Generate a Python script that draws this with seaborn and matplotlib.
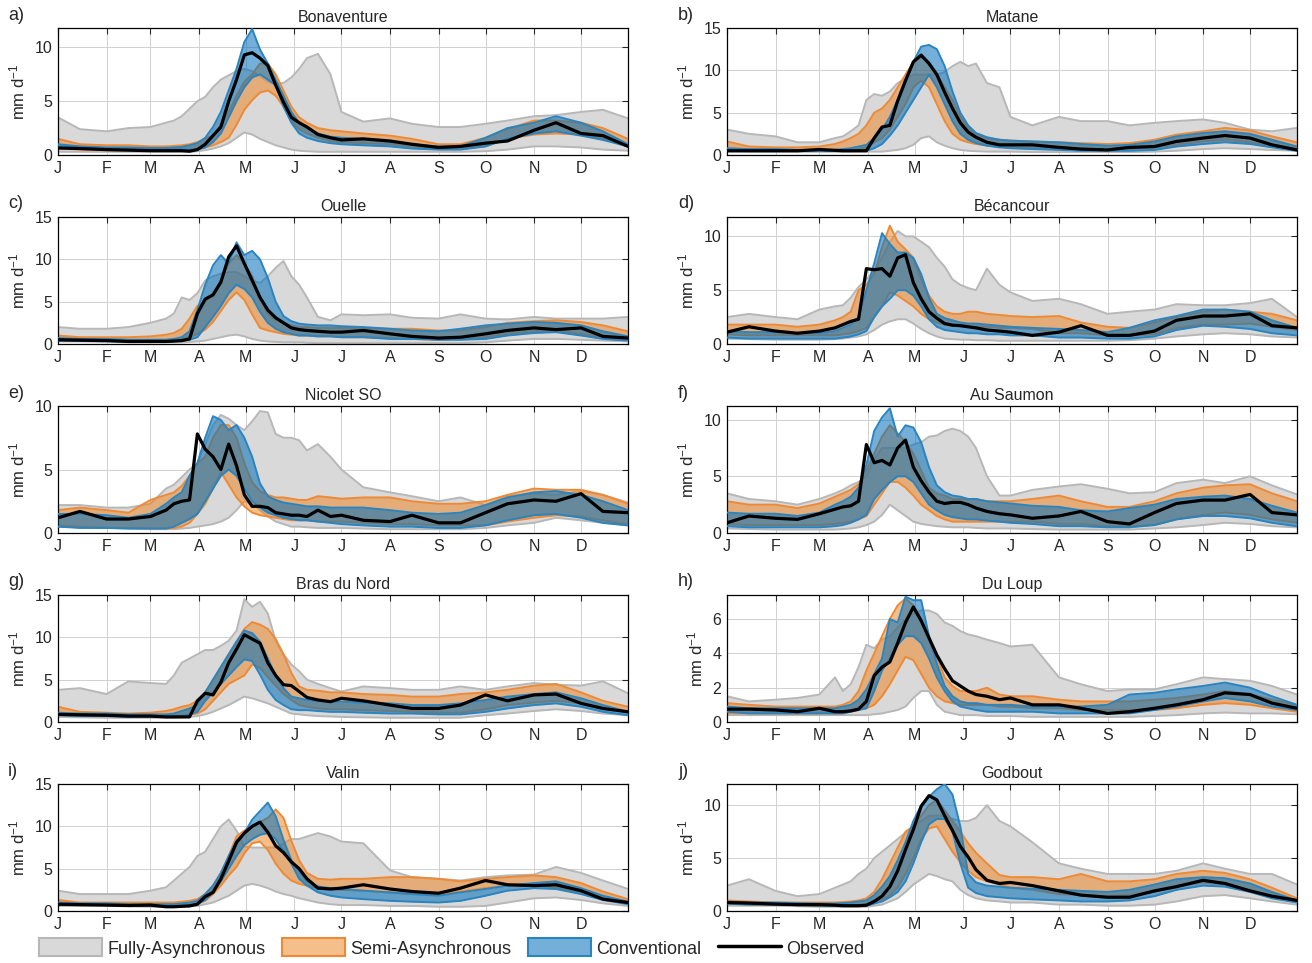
import matplotlib
matplotlib.use("Agg")
import matplotlib.pyplot as plt
import seaborn as sns
from matplotlib.patches import Patch
from matplotlib.lines import Line2D

# day of year of each sample
days = [1, 15, 32, 46, 60, 70, 75, 80, 85, 90, 95, 100, 105, 110, 115, 120, 125, 130, 135,
        140, 145, 150, 155, 160, 167, 175, 182, 196, 213, 227, 244, 258, 274, 288, 305, 319,
        335, 349, 365]
month_start = [1, 32, 60, 91, 121, 152, 182, 213, 244, 274, 305, 335]
month_labels = ['J', 'F', 'M', 'A', 'M', 'J', 'J', 'A', 'S', 'O', 'N', 'D']

stations = ['Bonaventure', 'Matane', 'Ouelle', 'Bécancour', 'Nicolet SO',
            'Au Saumon', 'Bras du Nord', 'Du Loup', 'Valin', 'Godbout']
letters = ['a)', 'b)', 'c)', 'd)', 'e)', 'f)', 'g)', 'h)', 'i)', 'j)']
ymax = [11.8, 15, 15, 11.8, 10, 11.2, 15, 7.4, 15, 12]
yticks = [[0, 5, 10], [0, 5, 10, 15], [0, 5, 10, 15], [0, 5, 10], [0, 5, 10],
          [0, 5, 10], [0, 5, 10, 15], [0, 2, 4, 6], [0, 5, 10, 15], [0, 5, 10]]

# a) Bonaventure
obs_a = [0.65,0.6,0.5,0.45,0.4,0.4,0.4,0.4,0.35,0.5,1.0,1.8,2.6,5.0,7.0,9.3,9.5,9.0,8.3,6.5,4.9,3.5,3.0,2.6,1.9,1.6,1.4,1.5,1.3,1.0,0.7,0.8,1.1,1.3,2.3,3.0,2.0,1.8,0.8]
fa_lo_a = [0.3,0.3,0.3,0.3,0.3,0.3,0.3,0.3,0.3,0.35,0.45,0.6,0.8,1.1,1.6,2.1,1.9,1.5,1.2,0.9,0.7,0.5,0.4,0.35,0.3,0.3,0.3,0.3,0.3,0.3,0.3,0.3,0.35,0.5,0.8,0.8,0.7,0.5,0.4]
fa_hi_a = [3.5,2.4,2.2,2.5,2.6,3.0,3.2,3.6,4.3,5.0,5.4,6.3,7.0,7.4,7.8,8.0,7.8,7.3,6.8,6.6,6.7,7.2,8.0,9.0,9.4,7.5,4.0,3.1,3.4,2.9,2.6,2.6,2.9,3.2,3.6,3.7,4.0,4.2,3.4]
sa_lo_a = [0.6,0.5,0.45,0.45,0.45,0.45,0.45,0.45,0.5,0.55,0.7,0.9,1.2,1.6,2.8,4.2,5.1,5.8,6.0,5.5,4.5,3.2,2.4,2.0,1.6,1.3,1.2,1.1,1.0,0.8,0.6,0.6,0.8,1.5,1.9,2.0,1.9,1.5,0.8]
sa_hi_a = [1.5,1.0,0.9,0.9,0.8,0.8,0.85,0.9,1.0,1.2,1.5,1.8,2.8,4.0,5.5,6.8,7.5,8.5,8.5,7.5,6.0,4.5,3.5,3.0,2.5,2.3,2.2,2.0,1.8,1.5,1.0,1.0,1.6,2.4,3.2,3.2,3.0,2.5,1.5]
cv_lo_a = [0.8,0.7,0.6,0.6,0.5,0.5,0.5,0.5,0.5,0.5,0.7,1.2,2.0,3.5,5.0,6.3,7.2,7.5,7.0,6.5,4.5,3.0,2.0,1.6,1.3,1.1,1.0,0.9,0.8,0.6,0.5,0.5,0.8,1.5,2.0,2.2,1.8,1.4,0.8]
cv_hi_a = [1.0,0.8,0.7,0.7,0.65,0.65,0.7,0.75,0.9,1.1,1.6,2.6,4.0,6.0,8.0,10.5,11.7,9.8,8.5,7.0,5.5,4.0,3.0,2.5,2.0,1.7,1.6,1.5,1.2,1.0,0.8,0.8,1.6,2.5,3.0,3.6,3.0,2.2,1.0]

# b) Matane
obs_b = [0.5,0.5,0.5,0.5,0.65,0.55,0.5,0.5,0.5,0.5,2.0,3.3,3.5,6.4,8.8,11.0,11.8,10.8,9.5,7.4,5.5,3.8,2.7,2.1,1.5,1.2,1.2,1.2,0.9,0.7,0.6,0.9,1.0,1.6,2.0,2.3,2.0,1.2,0.6]
fa_lo_b = [0.4,0.4,0.4,0.4,0.4,0.4,0.4,0.4,0.4,0.4,0.4,0.4,0.5,0.6,0.8,1.2,2.0,2.2,1.5,1.1,0.8,0.6,0.5,0.45,0.4,0.4,0.4,0.35,0.35,0.35,0.35,0.35,0.4,0.5,0.7,0.8,0.7,0.6,0.5]
fa_hi_b = [3.0,2.5,2.2,1.5,1.5,2.0,2.2,2.8,3.5,6.5,7.2,7.0,7.5,8.5,9.0,9.5,9.5,9.5,9.5,9.8,10.5,11.0,10.5,10.8,8.5,8.0,4.5,3.5,4.5,4.0,4.0,3.5,3.8,4.0,4.2,3.8,3.0,2.8,3.2]
sa_lo_b = [0.6,0.5,0.5,0.5,0.5,0.5,0.5,0.6,0.7,0.9,1.5,2.0,3.0,4.5,6.0,8.0,8.8,8.0,6.0,4.0,2.5,1.8,1.5,1.3,1.1,1.0,0.9,0.8,0.7,0.6,0.6,0.7,0.9,1.2,1.6,1.8,1.5,1.0,0.7]
sa_hi_b = [1.6,1.0,0.9,0.9,1.0,1.3,1.6,2.0,2.5,3.5,5.0,5.5,6.5,8.0,9.5,11.0,11.5,11.0,9.5,8.0,6.5,4.5,3.2,2.5,2.0,1.8,1.7,1.6,1.5,1.4,1.3,1.4,1.8,2.4,2.8,3.2,2.9,2.2,1.5]
cv_lo_b = [0.5,0.45,0.45,0.45,0.45,0.45,0.45,0.45,0.5,0.5,0.8,1.3,2.3,3.5,5.0,6.5,8.0,9.5,8.0,6.0,4.0,2.5,1.8,1.4,1.1,0.9,0.8,0.7,0.6,0.5,0.5,0.5,0.6,1.0,1.3,1.5,1.3,0.9,0.5]
cv_hi_b = [0.8,0.7,0.7,0.6,0.6,0.6,0.7,0.8,1.0,1.2,2.0,3.0,4.5,6.5,8.5,11.0,12.8,13.0,12.5,10.5,7.5,5.0,3.5,2.6,2.1,1.8,1.7,1.6,1.5,1.3,1.1,1.2,1.6,2.2,2.6,2.8,2.5,1.8,1.0]

# c) Ouelle
obs_c = [0.5,0.45,0.4,0.3,0.3,0.3,0.35,0.4,0.6,3.6,5.3,5.8,7.3,10.3,11.6,9.5,7.5,5.5,4.0,3.1,2.5,1.9,1.7,1.6,1.5,1.4,1.4,1.6,1.2,0.9,0.7,0.8,1.2,1.6,1.9,1.7,1.9,0.9,0.7]
fa_lo_c = [0.3,0.3,0.25,0.2,0.2,0.2,0.2,0.2,0.25,0.3,0.4,0.6,0.8,1.0,1.1,0.9,0.6,0.4,0.3,0.25,0.2,0.2,0.2,0.15,0.1,0.1,0.1,0.1,0.1,0.1,0.1,0.1,0.2,0.4,0.6,0.6,0.5,0.4,0.3]
fa_hi_c = [2.0,1.8,1.8,2.0,2.5,3.0,3.6,5.5,5.2,6.0,7.5,8.0,8.3,8.5,8.5,8.0,7.5,7.2,8.0,9.0,9.8,8.0,7.0,5.5,3.2,2.8,3.5,3.4,3.5,3.1,3.0,3.5,3.0,2.9,3.2,3.0,3.0,3.0,3.2]
sa_lo_c = [0.6,0.5,0.4,0.4,0.4,0.45,0.5,0.6,0.8,1.2,1.7,2.6,3.9,5.2,6.1,5.2,3.5,1.9,1.6,1.4,1.2,1.1,1.0,1.0,0.9,0.9,0.8,0.8,0.7,0.6,0.5,0.6,0.8,1.2,1.5,1.5,1.2,0.8,0.6]
sa_hi_c = [1.0,0.8,0.8,0.8,0.9,1.1,1.3,1.8,3.0,4.5,5.0,6.0,7.5,9.5,10.5,9.5,8.0,5.5,3.5,2.8,2.5,2.2,2.0,2.0,1.9,1.9,1.9,1.9,1.8,1.8,1.6,1.6,2.0,2.5,2.7,2.8,2.6,2.2,1.5]
cv_lo_c = [0.4,0.35,0.35,0.3,0.3,0.3,0.3,0.4,0.5,0.8,2.0,3.2,4.5,6.0,7.0,6.5,5.5,3.8,2.5,1.8,1.4,1.2,1.0,1.0,0.9,0.9,0.8,0.8,0.6,0.6,0.5,0.5,0.6,1.0,1.3,1.4,1.0,0.6,0.4]
cv_hi_c = [0.7,0.6,0.6,0.5,0.5,0.5,0.6,0.8,1.5,4.0,7.0,9.3,10.5,9.5,12.0,10.5,11.0,10.0,7.8,5.0,3.3,2.7,2.4,2.3,2.2,2.2,2.1,2.0,1.8,1.6,1.5,1.8,2.2,2.4,2.6,2.5,2.2,1.5,0.9]

# d) Bécancour
obs_d = [1.1,1.6,1.2,1.0,1.2,1.5,1.8,2.1,2.3,7.0,6.9,7.0,6.3,8.0,8.3,5.7,4.2,3.0,2.4,1.9,1.75,1.7,1.6,1.5,1.3,1.2,1.1,0.8,1.1,1.7,0.8,0.8,1.2,2.2,2.6,2.6,2.8,1.7,1.5]
fa_lo_d = [0.5,0.45,0.4,0.4,0.4,0.45,0.5,0.6,0.7,0.9,1.3,1.8,2.1,2.3,2.3,1.9,1.4,1.0,0.7,0.5,0.45,0.4,0.4,0.35,0.35,0.3,0.3,0.3,0.3,0.3,0.3,0.35,0.5,0.7,0.9,1.0,0.9,0.7,0.6]
fa_hi_d = [2.5,2.8,2.5,2.3,3.2,3.5,3.6,4.3,5.3,6.0,6.8,8.0,9.5,10.5,10.0,10.0,9.5,9.0,8.0,7.2,6.0,5.5,5.2,5.0,7.0,5.5,4.8,4.0,4.2,3.7,2.8,3.0,3.2,3.7,3.6,3.6,3.8,4.2,2.5]
sa_lo_d = [0.9,0.8,0.8,0.8,0.8,0.8,0.9,1.0,1.2,1.5,2.5,3.5,4.8,4.5,4.0,3.5,2.8,2.3,2.0,1.8,1.7,1.7,1.6,1.6,1.6,1.5,1.5,1.4,1.0,1.0,0.8,0.8,0.9,1.5,1.8,1.8,1.9,1.6,1.3]
sa_hi_d = [1.8,1.8,1.8,1.6,1.8,2.2,2.5,3.0,5.0,5.5,6.5,9.0,11.0,9.5,8.8,8.0,6.0,4.5,3.5,3.0,2.8,2.8,3.0,3.0,2.8,2.7,2.6,2.5,2.6,2.0,1.6,1.5,2.0,2.5,3.0,3.2,3.0,2.8,2.2]
cv_lo_d = [0.6,0.5,0.5,0.5,0.5,0.5,0.6,0.7,0.9,1.2,2.5,3.5,4.2,5.0,5.0,4.5,3.5,2.3,1.6,1.3,1.2,1.1,1.0,1.0,0.9,0.9,0.8,0.8,0.6,0.6,0.5,0.5,0.7,1.3,1.7,1.6,1.4,1.0,0.8]
cv_hi_d = [1.2,1.1,1.1,1.0,1.0,1.2,1.5,1.8,2.5,5.0,7.5,10.3,9.3,8.5,8.5,8.0,6.5,4.3,2.8,2.4,2.2,2.0,1.9,1.9,1.8,1.7,1.6,1.5,1.4,1.3,1.1,1.5,2.2,2.6,3.2,3.2,3.0,2.2,1.5]

# e) Nicolet SO
obs_e = [1.2,1.7,1.1,1.1,1.3,1.8,2.3,2.5,2.6,7.8,6.6,6.0,5.0,7.0,5.3,3.0,2.1,2.1,2.0,1.6,1.5,1.4,1.4,1.3,1.8,1.3,1.4,1.0,0.9,1.4,0.8,0.8,1.6,2.3,2.6,2.5,3.1,1.7,1.6]
fa_lo_e = [0.5,0.45,0.4,0.35,0.3,0.3,0.3,0.35,0.4,0.5,0.6,0.7,0.9,1.2,1.8,2.5,2.3,1.8,1.3,0.9,0.7,0.5,0.5,0.45,0.4,0.4,0.4,0.35,0.3,0.3,0.3,0.3,0.4,0.6,0.8,1.2,1.0,0.8,0.6]
fa_hi_e = [2.2,2.2,2.0,2.0,2.3,3.5,3.8,4.4,5.0,5.5,7.0,8.5,9.3,9.0,8.5,8.1,8.8,9.6,9.5,7.8,7.5,7.5,7.3,6.5,7.0,6.0,5.0,3.6,3.2,2.9,2.5,2.8,2.2,2.9,3.1,3.0,3.3,3.0,2.4]
sa_lo_e = [0.6,0.5,0.4,0.4,0.35,0.35,0.4,0.5,0.8,1.5,2.3,3.5,4.8,3.8,2.8,2.1,1.6,1.4,1.3,1.2,1.1,1.0,1.0,1.0,0.9,0.9,0.9,0.8,0.7,0.7,0.6,0.6,0.6,0.9,1.2,1.4,1.3,1.0,0.7]
sa_hi_e = [1.8,2.0,1.8,1.6,2.6,3.0,3.2,3.7,4.5,5.5,6.0,7.5,8.5,8.5,7.5,5.5,4.0,3.3,3.0,2.8,2.8,2.7,2.6,2.6,2.9,2.8,2.7,2.8,2.8,2.5,2.3,2.3,2.5,3.0,3.5,3.4,3.4,3.0,2.3]
cv_lo_e = [0.5,0.4,0.4,0.35,0.35,0.35,0.5,0.8,1.1,1.5,2.5,3.5,4.5,5.0,4.5,3.5,2.5,2.0,1.6,1.4,1.2,1.1,1.0,1.0,0.9,0.8,0.7,0.6,0.5,0.5,0.4,0.4,0.6,1.0,1.4,1.5,1.2,0.8,0.6]
cv_hi_e = [1.5,1.5,1.4,1.2,1.5,2.3,2.8,3.2,4.5,5.5,7.5,9.2,8.9,8.1,8.5,7.5,6.0,3.9,2.9,2.6,2.4,2.3,2.2,2.1,2.1,2.0,2.0,2.0,1.8,1.6,1.5,1.6,2.2,2.8,3.2,3.3,3.0,2.5,1.8]

# f) Au Saumon
obs_f = [0.9,1.5,1.3,1.2,1.7,2.1,2.3,2.4,2.8,7.8,6.2,6.4,6.0,7.5,8.2,5.8,4.6,3.6,2.8,2.6,2.7,2.7,2.5,2.2,1.9,1.7,1.6,1.3,1.5,1.9,1.0,0.8,1.8,2.6,2.9,2.9,3.4,1.8,1.6]
fa_lo_f = [0.4,0.35,0.3,0.3,0.3,0.3,0.35,0.4,0.5,0.7,1.0,1.6,2.5,2.0,1.5,1.0,0.8,0.7,0.6,0.55,0.5,0.5,0.5,0.45,0.4,0.4,0.4,0.35,0.3,0.3,0.3,0.3,0.4,0.5,0.7,0.9,0.8,0.6,0.5]
fa_hi_f = [3.5,3.0,2.8,2.5,3.0,3.5,3.8,4.2,4.5,5.0,6.5,7.5,7.5,7.5,7.5,7.8,8.0,8.5,8.6,9.0,9.2,9.0,8.5,7.5,5.0,3.3,3.3,3.8,4.1,4.3,3.9,3.5,3.6,4.4,4.7,4.4,5.0,4.2,3.4]
sa_lo_f = [0.8,0.7,0.7,0.7,0.7,0.8,0.9,1.0,1.2,1.5,2.5,3.5,4.5,4.5,4.0,3.3,2.5,2.0,1.5,1.2,1.0,1.0,1.0,1.0,1.0,1.0,1.0,1.0,0.8,0.8,0.6,0.6,0.7,1.2,1.6,1.8,1.6,1.2,0.9]
sa_hi_f = [2.8,2.5,2.5,2.2,2.6,3.2,3.5,3.8,4.3,5.5,7.0,8.5,9.5,8.8,8.0,7.0,5.5,4.0,3.5,3.3,3.0,3.0,3.0,3.0,2.8,2.8,2.8,3.0,3.3,2.8,2.3,2.3,2.8,3.5,4.0,4.2,4.3,3.5,2.8]
cv_lo_f = [0.6,0.5,0.5,0.5,0.5,0.6,0.7,0.9,1.2,1.6,3.0,3.8,4.5,5.0,5.0,4.5,3.5,2.5,2.0,1.6,1.4,1.3,1.2,1.2,1.1,1.0,0.9,0.8,0.6,0.6,0.5,0.5,0.7,1.2,1.5,1.5,1.3,0.9,0.6]
cv_hi_f = [1.8,1.7,1.7,1.5,1.8,2.5,2.8,3.2,4.0,6.0,9.0,10.2,11.0,8.5,9.5,9.3,8.0,5.8,4.2,3.6,3.3,3.2,3.0,3.0,2.8,2.7,2.6,2.4,2.3,2.0,1.9,2.2,2.5,3.0,3.2,3.3,3.0,2.4,1.8]

# g) Bras du Nord
obs_g = [0.9,0.85,0.8,0.7,0.7,0.6,0.6,0.6,0.6,2.5,3.4,3.2,4.7,7.0,8.6,10.3,9.8,9.3,7.0,5.5,4.4,4.3,3.6,2.9,2.6,2.4,2.8,2.5,2.0,1.6,1.6,2.0,3.2,2.5,3.2,3.3,2.2,1.6,1.2]
fa_lo_g = [0.6,0.55,0.5,0.5,0.5,0.5,0.5,0.55,0.6,0.7,0.9,1.2,1.6,2.0,2.5,3.0,2.8,2.5,2.2,1.8,1.4,1.0,0.9,0.8,0.7,0.65,0.6,0.55,0.5,0.5,0.5,0.5,0.8,1.0,1.3,1.5,1.3,1.0,0.8]
fa_hi_g = [3.8,4.0,3.3,4.8,4.6,4.5,5.5,7.0,7.5,8.0,8.5,8.5,9.0,9.6,10.8,14.5,13.6,14.2,12.8,9.6,8.0,6.8,6.0,5.0,4.5,4.0,3.6,4.2,4.0,3.8,3.8,4.2,3.8,4.2,4.6,4.4,4.3,4.8,3.4]
sa_lo_g = [0.9,0.8,0.8,0.7,0.7,0.7,0.75,0.8,0.9,1.0,1.5,2.5,3.5,4.5,5.0,5.5,6.8,6.4,5.3,4.3,3.3,2.6,2.0,1.8,1.6,1.5,1.5,1.4,1.3,1.2,1.1,1.1,1.5,2.0,2.3,2.5,2.2,1.6,1.2]
sa_hi_g = [1.8,1.2,1.1,1.0,1.1,1.3,1.5,1.8,2.0,2.5,3.5,5.0,6.5,8.0,9.5,11.0,11.8,11.5,11.0,9.8,8.0,5.8,4.2,3.8,3.7,3.5,3.5,3.3,3.2,3.0,3.0,3.3,3.5,3.8,4.3,4.5,3.5,2.5,1.8]
cv_lo_g = [0.8,0.7,0.7,0.6,0.6,0.6,0.6,0.7,0.9,1.2,2.5,3.5,4.5,5.5,6.5,7.4,7.2,5.6,3.8,2.6,2.0,1.5,1.4,1.4,1.3,1.2,1.2,1.1,1.0,1.0,0.9,0.9,1.2,1.6,2.0,2.2,1.8,1.2,0.8]
cv_hi_g = [1.1,1.0,1.0,0.9,0.9,0.9,1.0,1.3,1.6,2.0,3.5,5.0,6.5,8.0,9.5,10.8,10.5,9.5,7.5,5.5,4.0,3.0,2.8,2.6,2.5,2.4,2.4,2.3,2.2,2.0,2.0,2.2,2.6,3.0,3.3,3.5,2.8,2.0,1.2]

# h) Du Loup
obs_h = [0.75,0.75,0.7,0.6,0.8,0.6,0.6,0.65,0.75,1.2,2.7,3.2,3.5,4.6,5.8,6.7,5.9,4.9,3.9,3.1,2.4,2.1,1.8,1.6,1.5,1.3,1.4,1.0,1.0,0.8,0.5,0.6,0.8,1.0,1.3,1.7,1.6,1.1,0.8]
fa_lo_h = [0.4,0.4,0.4,0.4,0.4,0.4,0.4,0.4,0.4,0.4,0.45,0.5,0.6,0.7,0.9,1.4,1.8,1.8,1.0,0.6,0.5,0.4,0.4,0.4,0.35,0.35,0.35,0.3,0.3,0.3,0.3,0.3,0.35,0.4,0.5,0.55,0.5,0.5,0.45]
fa_hi_h = [1.5,1.2,1.3,1.4,1.6,2.6,1.8,2.2,3.2,4.5,4.3,4.8,5.0,5.5,6.0,6.3,6.5,6.5,6.3,5.8,5.6,5.3,5.1,5.0,4.8,4.6,4.4,4.5,2.6,2.2,1.8,1.9,1.9,2.2,2.6,2.5,2.4,2.1,1.6]
sa_lo_h = [0.5,0.5,0.5,0.5,0.5,0.5,0.5,0.6,0.7,0.8,1.0,1.5,2.2,3.0,3.8,3.6,2.8,2.0,1.5,1.2,1.1,1.0,1.0,1.0,1.0,0.9,0.9,0.8,0.8,0.7,0.7,0.7,0.7,0.8,1.0,1.1,1.0,0.8,0.6]
sa_hi_h = [1.1,1.0,0.9,0.9,0.9,0.9,1.0,1.2,1.8,3.0,4.0,5.0,6.0,6.8,7.2,6.8,6.0,4.8,3.8,2.6,2.1,1.8,1.8,1.8,2.0,1.6,1.5,1.5,1.3,1.2,1.2,1.2,1.3,1.4,1.6,1.8,1.6,1.3,1.0]
cv_lo_h = [0.6,0.5,0.5,0.5,0.5,0.5,0.5,0.6,0.7,0.8,1.8,3.0,3.7,4.5,5.0,5.0,4.6,3.7,2.6,1.8,1.2,0.9,0.8,0.7,0.6,0.6,0.6,0.6,0.5,0.5,0.5,0.5,0.7,0.9,1.2,1.4,1.2,0.9,0.7]
cv_hi_h = [0.9,0.8,0.8,0.8,0.8,0.8,0.9,1.0,1.3,1.9,2.8,3.7,6.0,5.8,7.3,7.1,7.1,5.0,3.4,2.1,1.5,1.2,1.1,1.1,1.0,1.0,1.0,0.9,0.9,0.9,1.0,1.6,1.7,1.9,2.1,2.3,2.0,1.5,1.0]

# i) Valin
obs_i = [0.8,0.75,0.7,0.65,0.7,0.5,0.5,0.55,0.6,0.8,1.7,2.2,3.8,5.9,8.1,9.2,10.0,10.5,9.3,7.7,6.9,5.8,5.0,3.8,2.7,2.6,2.7,3.1,2.6,2.3,2.1,2.7,3.6,3.1,3.0,3.1,2.4,1.4,1.0]
fa_lo_i = [0.6,0.6,0.6,0.55,0.5,0.5,0.5,0.5,0.55,0.6,0.8,1.0,1.4,1.8,2.4,3.0,3.2,3.0,2.7,2.3,2.0,1.8,1.5,1.3,1.0,0.8,0.7,0.7,0.6,0.6,0.5,0.5,0.6,1.0,1.5,1.6,1.3,0.9,0.6]
fa_hi_i = [2.4,2.0,2.0,2.0,2.4,2.8,3.6,4.4,5.2,6.5,7.0,8.5,10.0,10.8,9.5,7.6,7.5,7.5,7.5,7.5,8.0,8.5,8.5,8.8,9.2,8.8,8.2,8.0,4.8,4.0,3.8,3.6,4.0,4.2,4.3,5.2,4.5,3.6,2.6]
sa_lo_i = [0.9,0.8,0.8,0.8,0.8,0.8,0.8,0.8,0.85,0.9,1.2,2.0,3.0,4.2,5.2,6.8,8.0,8.2,7.2,5.6,4.4,3.6,3.2,3.0,2.7,2.6,2.5,2.4,2.2,2.0,2.0,2.3,2.7,3.0,3.0,2.8,2.2,1.5,1.0]
sa_hi_i = [1.3,1.0,1.0,1.0,1.0,1.0,1.0,1.1,1.2,1.4,2.0,3.0,4.5,6.5,8.8,9.5,10.0,10.5,11.0,12.0,11.0,8.3,6.0,4.5,3.8,3.7,3.8,3.8,4.0,4.0,3.8,3.5,3.8,4.0,4.2,4.0,3.3,2.3,1.4]
cv_lo_i = [0.8,0.7,0.7,0.6,0.6,0.6,0.6,0.6,0.7,0.8,1.3,2.2,3.5,5.0,6.5,7.8,8.5,9.0,9.2,8.5,7.0,5.6,3.8,3.0,2.2,1.8,1.6,1.4,1.2,1.1,1.0,1.2,1.8,2.4,2.7,2.6,2.0,1.3,0.8]
cv_hi_i = [1.0,0.9,0.9,0.8,0.8,0.8,0.8,0.9,1.0,1.2,2.0,3.0,4.5,6.5,8.3,9.2,10.8,11.8,12.8,11.2,8.4,6.0,4.8,3.5,2.9,2.7,2.6,2.4,2.2,2.0,1.8,2.2,2.6,3.0,3.3,3.5,2.7,1.8,1.1]

# j) Godbout
obs_j = [0.8,0.75,0.65,0.6,0.6,0.55,0.5,0.5,0.5,0.55,0.9,1.4,2.3,3.8,5.8,7.7,9.9,10.9,10.5,9.0,7.6,6.1,5.1,3.9,2.9,2.6,2.7,2.4,1.9,1.5,1.3,1.3,1.9,2.3,2.9,2.6,1.9,1.4,1.0]
fa_lo_j = [0.5,0.5,0.5,0.45,0.4,0.4,0.4,0.4,0.4,0.4,0.5,0.6,0.9,1.2,1.8,2.5,3.0,3.5,3.3,3.0,2.8,2.0,1.5,1.2,1.0,0.9,0.8,0.8,0.6,0.6,0.5,0.5,0.6,0.9,1.4,1.5,1.2,0.9,0.6]
fa_hi_j = [2.4,3.0,1.9,1.4,1.6,2.2,2.5,2.8,3.5,4.0,5.0,5.6,6.2,6.8,7.4,8.0,8.5,9.0,9.0,9.0,8.7,8.5,8.5,8.8,10.0,8.5,8.0,6.5,4.5,4.0,3.5,3.5,3.5,3.8,4.5,4.0,3.5,3.5,2.5]
sa_lo_j = [0.7,0.6,0.6,0.55,0.5,0.5,0.5,0.5,0.55,0.6,0.8,1.0,1.5,2.2,3.5,5.0,6.8,7.8,8.0,6.8,5.6,4.6,3.8,3.2,2.8,2.5,2.2,2.0,1.6,1.5,1.4,1.5,1.8,2.3,2.7,2.5,2.0,1.4,0.9]
sa_hi_j = [1.0,0.9,0.8,0.8,0.8,0.8,0.85,0.9,1.0,1.2,1.8,3.0,4.5,6.0,7.5,8.0,9.0,10.0,10.5,9.5,8.5,7.5,6.4,5.5,4.5,3.4,3.2,3.2,3.0,3.5,2.8,2.8,3.0,3.5,3.8,3.6,3.0,2.2,1.2]
cv_lo_j = [0.7,0.6,0.6,0.55,0.5,0.5,0.5,0.5,0.5,0.5,0.7,0.9,1.3,1.8,2.8,4.5,6.5,8.2,8.7,8.7,7.5,4.5,2.2,1.7,1.4,1.3,1.2,1.1,1.0,0.9,0.9,1.0,1.4,2.0,2.4,2.3,1.8,1.2,0.8]
cv_hi_j = [0.9,0.8,0.8,0.75,0.7,0.7,0.75,0.8,0.9,1.0,1.5,2.3,3.3,4.8,6.5,8.5,10.0,10.8,11.5,12.0,11.0,8.0,3.5,2.7,2.4,2.3,2.2,2.1,2.0,1.9,1.8,2.0,2.5,3.0,3.2,3.1,2.6,1.8,1.0]

panels = [
    (obs_a, fa_lo_a, fa_hi_a, sa_lo_a, sa_hi_a, cv_lo_a, cv_hi_a),
    (obs_b, fa_lo_b, fa_hi_b, sa_lo_b, sa_hi_b, cv_lo_b, cv_hi_b),
    (obs_c, fa_lo_c, fa_hi_c, sa_lo_c, sa_hi_c, cv_lo_c, cv_hi_c),
    (obs_d, fa_lo_d, fa_hi_d, sa_lo_d, sa_hi_d, cv_lo_d, cv_hi_d),
    (obs_e, fa_lo_e, fa_hi_e, sa_lo_e, sa_hi_e, cv_lo_e, cv_hi_e),
    (obs_f, fa_lo_f, fa_hi_f, sa_lo_f, sa_hi_f, cv_lo_f, cv_hi_f),
    (obs_g, fa_lo_g, fa_hi_g, sa_lo_g, sa_hi_g, cv_lo_g, cv_hi_g),
    (obs_h, fa_lo_h, fa_hi_h, sa_lo_h, sa_hi_h, cv_lo_h, cv_hi_h),
    (obs_i, fa_lo_i, fa_hi_i, sa_lo_i, sa_hi_i, cv_lo_i, cv_hi_i),
    (obs_j, fa_lo_j, fa_hi_j, sa_lo_j, sa_hi_j, cv_lo_j, cv_hi_j),
]

# colours
grey_fill, grey_edge = '#d9d9d9', '#b7b7b7'
orange_fill, orange_edge = (0.93, 0.50, 0.10, 0.5), '#ee8a35'
blue_fill, blue_edge = (0.00, 0.43, 0.72, 0.55), '#2a84bf'

sns.set_style('white')
plt.rcParams['font.family'] = ['Liberation Sans', 'DejaVu Sans']
plt.rcParams['mathtext.default'] = 'regular'

W, H = 1312, 963
fig = plt.figure(figsize=(W / 100, H / 100), dpi=100)

col_left = [58, 727]
row_top = [28, 217, 406, 595, 784]
ax_w, ax_h = 570, 127


def band(ax, lo, hi, fill, edge, z):
    ax.fill_between(days, lo, hi, color=fill, lw=0, zorder=z)
    sns.lineplot(x=days, y=lo, ax=ax, color=edge, lw=1.4, zorder=z + 0.5)
    sns.lineplot(x=days, y=hi, ax=ax, color=edge, lw=1.4, zorder=z + 0.5)


for k, (obs, fa_lo, fa_hi, sa_lo, sa_hi, cv_lo, cv_hi) in enumerate(panels):
    r, c = divmod(k, 2)
    x0, y0 = col_left[c], row_top[r]
    ax = fig.add_axes([x0 / W, 1 - (y0 + ax_h) / H, ax_w / W, ax_h / H])

    band(ax, fa_lo, fa_hi, grey_fill, grey_edge, 1)
    band(ax, sa_lo, sa_hi, orange_fill, orange_edge, 2)
    band(ax, cv_lo, cv_hi, blue_fill, blue_edge, 3)
    sns.lineplot(x=days, y=obs, ax=ax, color='black', lw=2.3, zorder=5)

    ax.set_xlim(1, 365)
    ax.set_ylim(0, ymax[k])
    ax.set_xticks(month_start)
    ax.set_xticklabels(month_labels)
    ax.set_yticks(yticks[k])
    ax.grid(True, color='#d0d0d0', lw=0.7)
    ax.set_axisbelow(True)
    ax.tick_params(direction='in', top=True, right=True, length=4, width=0.8,
                   labelsize=11.5, pad=4)
    for sp in ax.spines.values():
        sp.set_color('black')
        sp.set_linewidth(0.9)
    ax.set_xlabel('')
    ax.set_ylabel('mm d$^{-1}$', fontsize=12, labelpad=5)
    ax.set_title(stations[k], fontsize=11.5, pad=4)

    lx = 8 if c == 0 else 678
    fig.text(lx / W, 1 - (y0 - 13) / H, letters[k], fontsize=13, ha='left', va='center')

handles = [
    Patch(facecolor=grey_fill, edgecolor=grey_edge, lw=1.5),
    Patch(facecolor=orange_fill, edgecolor=orange_edge, lw=1.5),
    Patch(facecolor=blue_fill, edgecolor=blue_edge, lw=1.5),
    Line2D([0], [0], color='black', lw=2.5),
]
fig.legend(handles, ['Fully-Asynchronous', 'Semi-Asynchronous', 'Conventional', 'Observed'],
           loc='center left', bbox_to_anchor=(30 / W, 1 - 948 / H), ncol=4, frameon=False,
           fontsize=13, handlelength=3.5, handleheight=1.15, handletextpad=0.3,
           columnspacing=0.9, borderpad=0)

fig.savefig('out.png', dpi=100)
